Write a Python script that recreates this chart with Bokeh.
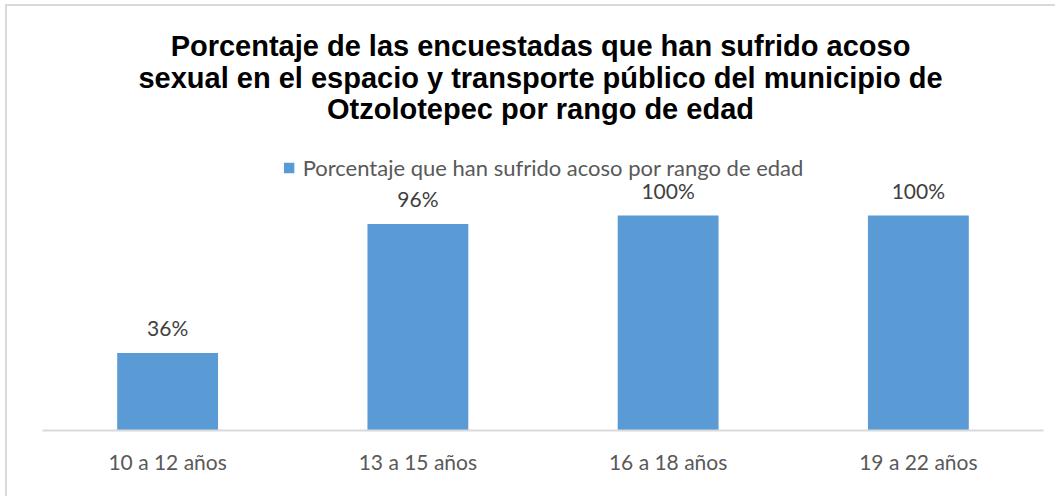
from bokeh.plotting import figure
from bokeh.models import ColumnDataSource, LabelSet, Label, Legend, LegendItem, FactorRange
from bokeh.core.properties import value
from bokeh.embed import file_html
from bokeh.resources import INLINE

categories = ["10 a 12 años", "13 a 15 años", "16 a 18 años", "19 a 22 años"]
values = [0.36, 0.96, 1.00, 1.00]
value_labels = ["36%", "96%", "100%", "100%"]
series_name = "Porcentaje que han sufrido acoso por rango de edad"
title_lines = [
    "Porcentaje de las encuestadas que han sufrido acoso",
    "sexual en el espacio y transporte público del municipio de",
    "Otzolotepec por rango de edad",
]

BAR = "#5B9BD5"
FONT = "Lato"

src = ColumnDataSource(dict(cat=categories, val=values, lab=value_labels))

p = figure(
    width=1050, height=492,
    x_range=FactorRange(factors=categories),
    y_range=(0, 1.907),
    output_backend="svg", toolbar_location=None,
    min_border_left=35, min_border_right=14, min_border_top=14, min_border_bottom=68,
)
p.styles = {"border-left": "2px solid #d9d9d9", "border-top": "2px solid #d9d9d9",
            "margin-left": "5px", "margin-top": "4px"}
p.outline_line_color = None
p.background_fill_color = "white"
p.border_fill_color = "white"
p.xgrid.visible = False
p.ygrid.visible = False
p.yaxis.visible = False

r = p.vbar(x="cat", top="val", width=0.403, source=src, fill_color=BAR, line_color=None)

ax = p.xaxis[0]
ax.axis_line_color = "#d9d9d9"
ax.axis_line_width = 2
ax.major_tick_line_color = None
ax.minor_tick_line_color = None
ax.major_label_text_font = FONT
ax.major_label_text_font_size = "21px"
ax.major_label_text_color = "#595959"
ax.major_label_standoff = 12

labels = LabelSet(x="cat", y="val", text="lab", source=src, text_align="center",
                  text_baseline="alphabetic", y_offset=17,
                  text_font=value(FONT), text_font_size="21px", text_color="#404040")
p.add_layout(labels)

legend = Legend(items=[LegendItem(label=series_name, renderers=[r])],
                location="top_center", orientation="horizontal",
                label_text_font=FONT, label_text_font_size="22px", label_text_color="#595959",
                glyph_width=13, glyph_height=13, label_standoff=8, padding=0, margin=134,
                border_line_color=None, background_fill_alpha=0)
p.add_layout(legend)

title_base = [385, 353, 322]
for txt, yb in zip(title_lines, title_base):
    p.add_layout(Label(x=498, y=yb, x_units="screen", y_units="screen", text=txt,
                       text_align="center", text_baseline="alphabetic",
                       text_font="Liberation Sans", text_font_size="29px",
                       text_font_style="bold", text_color="black"))

open("out.html", "w").write(file_html(p, INLINE))
